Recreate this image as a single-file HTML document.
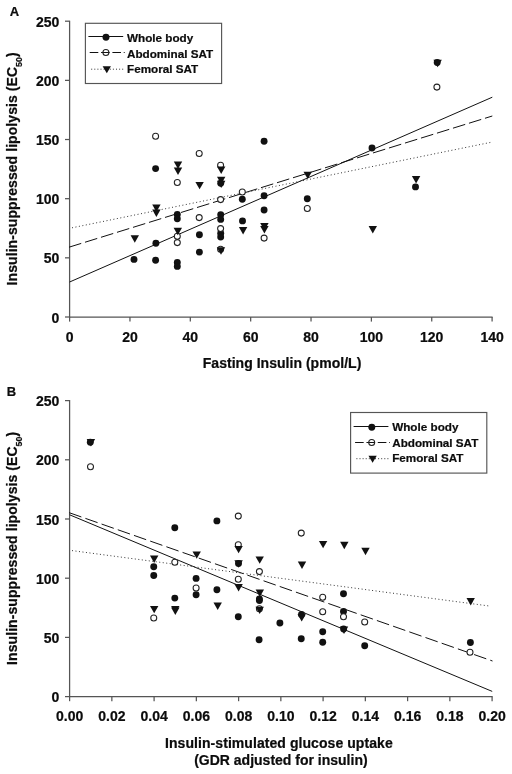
<!DOCTYPE html>
<html><head><meta charset="utf-8"><title>Figure</title>
<style>
html,body{margin:0;padding:0;background:#fff;}
body{width:512px;height:774px;overflow:hidden;}
svg{display:block;will-change:transform;filter:grayscale(1);}
text{font-family:"Liberation Sans",sans-serif;font-weight:bold;fill:#0c0c0c;stroke:#0c0c0c;stroke-width:0.22px;stroke-linejoin:round;}
.t13{font-size:14px;}
.lab{font-size:13px;}
.t14{font-size:14px;}
.lg{font-size:11.7px;}
</style></head><body>
<svg width="512" height="774" viewBox="0 0 512 774">
<rect x="0" y="0" width="512" height="774" fill="#fff"/>

<!-- Panel A -->
<g stroke="#555" stroke-width="1.25" fill="none" stroke-linecap="butt">
<path d="M69.6 20.7V317.5"/>
<path d="M69.1 317.0H492.6"/>
<path d="M69.60 317.0v4.6"/>
<path d="M129.96 317.0v4.6"/>
<path d="M190.31 317.0v4.6"/>
<path d="M250.67 317.0v4.6"/>
<path d="M311.03 317.0v4.6"/>
<path d="M371.39 317.0v4.6"/>
<path d="M431.74 317.0v4.6"/>
<path d="M492.10 317.0v4.6"/>
<path d="M69.6 317.00h-4.6"/>
<path d="M69.6 257.84h-4.6"/>
<path d="M69.6 198.68h-4.6"/>
<path d="M69.6 139.52h-4.6"/>
<path d="M69.6 80.36h-4.6"/>
<path d="M69.6 21.20h-4.6"/>
</g>
<text class="t13" x="69.60" y="341.8" text-anchor="middle">0</text>
<text class="t13" x="129.96" y="341.8" text-anchor="middle">20</text>
<text class="t13" x="190.31" y="341.8" text-anchor="middle">40</text>
<text class="t13" x="250.67" y="341.8" text-anchor="middle">60</text>
<text class="t13" x="311.03" y="341.8" text-anchor="middle">80</text>
<text class="t13" x="371.39" y="341.8" text-anchor="middle">100</text>
<text class="t13" x="431.74" y="341.8" text-anchor="middle">120</text>
<text class="t13" x="492.10" y="341.8" text-anchor="middle">140</text>
<text class="t13" x="59.3" y="322.50" text-anchor="end">0</text>
<text class="t13" x="59.3" y="263.34" text-anchor="end">50</text>
<text class="t13" x="59.3" y="204.18" text-anchor="end">100</text>
<text class="t13" x="59.3" y="145.02" text-anchor="end">150</text>
<text class="t13" x="59.3" y="85.86" text-anchor="end">200</text>
<text class="t13" x="59.3" y="26.70" text-anchor="end">250</text>
<g stroke="#111" stroke-width="1.0" fill="none">
<path d="M69.6 282L492.3 97.2"/>
<path d="M69.0 247.2L492.3 116" stroke-dasharray="12.8 3.95"/>
<path d="M72 227.8L490.5 142.4" stroke-dasharray="1 2.52" stroke-width="0.95" stroke="#2a2a2a"/>
</g>
<g>
<circle cx="134.00" cy="259.40" r="3.45" fill="#111"/>
<circle cx="155.90" cy="243.30" r="3.45" fill="#111"/>
<circle cx="155.60" cy="260.20" r="3.45" fill="#111"/>
<circle cx="155.60" cy="168.60" r="3.45" fill="#111"/>
<circle cx="177.30" cy="214.40" r="3.45" fill="#111"/>
<circle cx="177.30" cy="218.75" r="3.45" fill="#111"/>
<circle cx="177.30" cy="262.50" r="3.45" fill="#111"/>
<circle cx="177.30" cy="266.40" r="3.45" fill="#111"/>
<circle cx="199.40" cy="234.70" r="3.45" fill="#111"/>
<circle cx="199.40" cy="252.10" r="3.45" fill="#111"/>
<circle cx="220.70" cy="214.70" r="3.45" fill="#111"/>
<circle cx="220.70" cy="219.40" r="3.45" fill="#111"/>
<circle cx="220.70" cy="233.20" r="3.45" fill="#111"/>
<circle cx="220.70" cy="237.00" r="3.45" fill="#111"/>
<circle cx="220.70" cy="183.30" r="3.45" fill="#111"/>
<circle cx="242.30" cy="199.30" r="3.45" fill="#111"/>
<circle cx="242.50" cy="220.90" r="3.45" fill="#111"/>
<circle cx="264.10" cy="141.25" r="3.45" fill="#111"/>
<circle cx="264.10" cy="195.80" r="3.45" fill="#111"/>
<circle cx="264.10" cy="210.00" r="3.45" fill="#111"/>
<circle cx="307.30" cy="198.80" r="3.45" fill="#111"/>
<circle cx="372.00" cy="148.00" r="3.45" fill="#111"/>
<circle cx="415.50" cy="186.90" r="3.45" fill="#111"/>
<circle cx="437.20" cy="62.50" r="3.45" fill="#111"/>
<circle cx="155.60" cy="136.25" r="3.0" fill="#fff" stroke="#222" stroke-width="1.05"/>
<circle cx="177.30" cy="182.50" r="3.0" fill="#fff" stroke="#222" stroke-width="1.05"/>
<circle cx="177.30" cy="236.20" r="3.0" fill="#fff" stroke="#222" stroke-width="1.05"/>
<circle cx="177.30" cy="242.60" r="3.0" fill="#fff" stroke="#222" stroke-width="1.05"/>
<circle cx="199.20" cy="153.40" r="3.0" fill="#fff" stroke="#222" stroke-width="1.05"/>
<circle cx="199.20" cy="217.60" r="3.0" fill="#fff" stroke="#222" stroke-width="1.05"/>
<circle cx="220.60" cy="165.30" r="3.0" fill="#fff" stroke="#222" stroke-width="1.05"/>
<circle cx="220.60" cy="199.60" r="3.0" fill="#fff" stroke="#222" stroke-width="1.05"/>
<circle cx="220.60" cy="228.60" r="3.0" fill="#fff" stroke="#222" stroke-width="1.05"/>
<circle cx="220.60" cy="249.30" r="3.0" fill="#fff" stroke="#222" stroke-width="1.05"/>
<circle cx="242.30" cy="191.90" r="3.0" fill="#fff" stroke="#222" stroke-width="1.05"/>
<circle cx="264.10" cy="238.10" r="3.0" fill="#fff" stroke="#222" stroke-width="1.05"/>
<circle cx="307.30" cy="208.40" r="3.0" fill="#fff" stroke="#222" stroke-width="1.05"/>
<circle cx="436.90" cy="87.10" r="3.0" fill="#fff" stroke="#222" stroke-width="1.05"/>
<path d="M130.60 235.30L139.00 235.30L134.80 242.70Z" fill="#111"/>
<path d="M152.20 204.60L160.60 204.60L156.40 212.00Z" fill="#111"/>
<path d="M152.20 209.50L160.60 209.50L156.40 216.90Z" fill="#111"/>
<path d="M173.80 161.60L182.20 161.60L178.00 169.00Z" fill="#111"/>
<path d="M173.80 167.60L182.20 167.60L178.00 175.00Z" fill="#111"/>
<path d="M173.60 227.80L182.00 227.80L177.80 235.20Z" fill="#111"/>
<path d="M195.40 181.90L203.80 181.90L199.60 189.30Z" fill="#111"/>
<path d="M217.00 166.60L225.40 166.60L221.20 174.00Z" fill="#111"/>
<path d="M217.00 176.80L225.40 176.80L221.20 184.20Z" fill="#111"/>
<path d="M217.00 180.70L225.40 180.70L221.20 188.10Z" fill="#111"/>
<path d="M216.80 247.30L225.20 247.30L221.00 254.70Z" fill="#111"/>
<path d="M238.90 227.00L247.30 227.00L243.10 234.40Z" fill="#111"/>
<path d="M260.20 223.10L268.60 223.10L264.40 230.50Z" fill="#111"/>
<path d="M260.20 226.05L268.60 226.05L264.40 233.45Z" fill="#111"/>
<path d="M303.50 171.70L311.90 171.70L307.70 179.10Z" fill="#111"/>
<path d="M368.60 226.00L377.00 226.00L372.80 233.40Z" fill="#111"/>
<path d="M411.90 176.10L420.30 176.10L416.10 183.50Z" fill="#111"/>
<path d="M433.40 59.80L441.80 59.80L437.60 67.20Z" fill="#111"/>
</g>
<text class="t14" transform="translate(16.6 168.8) rotate(-90)" text-anchor="middle" letter-spacing="0.07">Insulin-suppressed lipolysis (EC<tspan font-size="8.8" dy="5.0">50</tspan><tspan dy="-5.0">)</tspan></text>
<text class="t14" x="282.1" y="368.3" text-anchor="middle" letter-spacing="0.03">Fasting Insulin (pmol/L)</text>
<text class="lab" x="9.8" y="16.2">A</text>
<rect x="85.4" y="23.3" width="136.2" height="60.2" fill="#fff" stroke="#555" stroke-width="1.15"/>
<g stroke="#111" stroke-width="1.05" fill="none">
<path d="M88.40 36.55H123.20"/>
<path d="M89.70 52.55H124.70" stroke-dasharray="8.6 2.75"/>
<path d="M91.20 69.20H125.20" stroke-dasharray="1 2.1" stroke-width="0.95" stroke="#2a2a2a"/>
</g>
<circle cx="106.00" cy="37.30" r="3.45" fill="#111"/>
<circle cx="105.90" cy="52.55" r="3.0" fill="none" stroke="#222" stroke-width="1.05"/>
<path d="M102.65 66.20L110.95 66.20L106.80 73.20Z" fill="#111"/>
<text class="lg" x="127.00" y="42.10">Whole body</text>
<text class="lg" x="127.00" y="57.80">Abdominal SAT</text>
<text class="lg" x="127.00" y="72.70">Femoral SAT</text>
<!-- Panel B -->
<g stroke="#555" stroke-width="1.25" fill="none" stroke-linecap="butt">
<path d="M69.6 400.1V697.1"/>
<path d="M69.1 696.6H492.6"/>
<path d="M69.60 696.6v4.6"/>
<path d="M111.85 696.6v4.6"/>
<path d="M154.10 696.6v4.6"/>
<path d="M196.35 696.6v4.6"/>
<path d="M238.60 696.6v4.6"/>
<path d="M280.85 696.6v4.6"/>
<path d="M323.10 696.6v4.6"/>
<path d="M365.35 696.6v4.6"/>
<path d="M407.60 696.6v4.6"/>
<path d="M449.85 696.6v4.6"/>
<path d="M492.10 696.6v4.6"/>
<path d="M69.6 696.60h-4.6"/>
<path d="M69.6 637.40h-4.6"/>
<path d="M69.6 578.20h-4.6"/>
<path d="M69.6 519.00h-4.6"/>
<path d="M69.6 459.80h-4.6"/>
<path d="M69.6 400.60h-4.6"/>
</g>
<text class="t13" x="69.60" y="720.9" text-anchor="middle">0.00</text>
<text class="t13" x="111.85" y="720.9" text-anchor="middle">0.02</text>
<text class="t13" x="154.10" y="720.9" text-anchor="middle">0.04</text>
<text class="t13" x="196.35" y="720.9" text-anchor="middle">0.06</text>
<text class="t13" x="238.60" y="720.9" text-anchor="middle">0.08</text>
<text class="t13" x="280.85" y="720.9" text-anchor="middle">0.10</text>
<text class="t13" x="323.10" y="720.9" text-anchor="middle">0.12</text>
<text class="t13" x="365.35" y="720.9" text-anchor="middle">0.14</text>
<text class="t13" x="407.60" y="720.9" text-anchor="middle">0.16</text>
<text class="t13" x="449.85" y="720.9" text-anchor="middle">0.18</text>
<text class="t13" x="492.10" y="720.9" text-anchor="middle">0.20</text>
<text class="t13" x="59.3" y="702.10" text-anchor="end">0</text>
<text class="t13" x="59.3" y="642.90" text-anchor="end">50</text>
<text class="t13" x="59.3" y="583.70" text-anchor="end">100</text>
<text class="t13" x="59.3" y="524.50" text-anchor="end">150</text>
<text class="t13" x="59.3" y="465.30" text-anchor="end">200</text>
<text class="t13" x="59.3" y="406.10" text-anchor="end">250</text>
<g stroke="#111" stroke-width="1.0" fill="none">
<path d="M69.6 514.8L492.2 691.4"/>
<path d="M69.2 512.7L492.5 661" stroke-dasharray="12.9 4.26"/>
<path d="M72 550.6L490 606.1" stroke-dasharray="1 2.52" stroke-width="0.95" stroke="#2a2a2a"/>
</g>
<g>
<circle cx="90.30" cy="442.20" r="3.45" fill="#111"/>
<circle cx="153.75" cy="566.70" r="3.45" fill="#111"/>
<circle cx="153.75" cy="575.50" r="3.45" fill="#111"/>
<circle cx="174.80" cy="527.70" r="3.45" fill="#111"/>
<circle cx="174.80" cy="598.10" r="3.45" fill="#111"/>
<circle cx="196.10" cy="578.40" r="3.45" fill="#111"/>
<circle cx="196.10" cy="594.70" r="3.45" fill="#111"/>
<circle cx="216.90" cy="520.90" r="3.45" fill="#111"/>
<circle cx="216.90" cy="589.80" r="3.45" fill="#111"/>
<circle cx="238.30" cy="616.70" r="3.45" fill="#111"/>
<circle cx="238.50" cy="563.50" r="3.45" fill="#111"/>
<circle cx="259.40" cy="598.90" r="3.45" fill="#111"/>
<circle cx="259.40" cy="600.50" r="3.45" fill="#111"/>
<circle cx="259.10" cy="639.70" r="3.45" fill="#111"/>
<circle cx="279.90" cy="623.00" r="3.45" fill="#111"/>
<circle cx="301.50" cy="614.50" r="3.45" fill="#111"/>
<circle cx="301.25" cy="638.75" r="3.45" fill="#111"/>
<circle cx="322.70" cy="631.70" r="3.45" fill="#111"/>
<circle cx="322.70" cy="642.20" r="3.45" fill="#111"/>
<circle cx="343.50" cy="593.80" r="3.45" fill="#111"/>
<circle cx="343.50" cy="611.40" r="3.45" fill="#111"/>
<circle cx="343.60" cy="629.00" r="3.45" fill="#111"/>
<circle cx="364.70" cy="645.80" r="3.45" fill="#111"/>
<circle cx="470.40" cy="642.50" r="3.45" fill="#111"/>
<circle cx="90.50" cy="466.75" r="3.0" fill="#fff" stroke="#222" stroke-width="1.05"/>
<circle cx="153.75" cy="618.00" r="3.0" fill="#fff" stroke="#222" stroke-width="1.05"/>
<circle cx="174.80" cy="562.20" r="3.0" fill="#fff" stroke="#222" stroke-width="1.05"/>
<circle cx="196.10" cy="588.00" r="3.0" fill="#fff" stroke="#222" stroke-width="1.05"/>
<circle cx="238.30" cy="516.10" r="3.0" fill="#fff" stroke="#222" stroke-width="1.05"/>
<circle cx="238.30" cy="544.70" r="3.0" fill="#fff" stroke="#222" stroke-width="1.05"/>
<circle cx="238.30" cy="579.20" r="3.0" fill="#fff" stroke="#222" stroke-width="1.05"/>
<circle cx="259.40" cy="571.60" r="3.0" fill="#fff" stroke="#222" stroke-width="1.05"/>
<circle cx="259.40" cy="608.70" r="3.0" fill="#fff" stroke="#222" stroke-width="1.05"/>
<circle cx="301.25" cy="533.10" r="3.0" fill="#fff" stroke="#222" stroke-width="1.05"/>
<circle cx="322.70" cy="597.30" r="3.0" fill="#fff" stroke="#222" stroke-width="1.05"/>
<circle cx="322.70" cy="611.70" r="3.0" fill="#fff" stroke="#222" stroke-width="1.05"/>
<circle cx="343.50" cy="616.80" r="3.0" fill="#fff" stroke="#222" stroke-width="1.05"/>
<circle cx="364.70" cy="622.00" r="3.0" fill="#fff" stroke="#222" stroke-width="1.05"/>
<circle cx="470.00" cy="652.20" r="3.0" fill="#fff" stroke="#222" stroke-width="1.05"/>
<path d="M86.70 439.10L95.10 439.10L90.90 446.50Z" fill="#111"/>
<path d="M150.00 555.50L158.40 555.50L154.20 562.90Z" fill="#111"/>
<path d="M150.00 605.90L158.40 605.90L154.20 613.30Z" fill="#111"/>
<path d="M171.10 605.90L179.50 605.90L175.30 613.30Z" fill="#111"/>
<path d="M171.10 607.60L179.50 607.60L175.30 615.00Z" fill="#111"/>
<path d="M192.50 551.40L200.90 551.40L196.70 558.80Z" fill="#111"/>
<path d="M213.50 602.50L221.90 602.50L217.70 609.90Z" fill="#111"/>
<path d="M234.40 545.90L242.80 545.90L238.60 553.30Z" fill="#111"/>
<path d="M234.40 560.30L242.80 560.30L238.60 567.70Z" fill="#111"/>
<path d="M234.40 584.00L242.80 584.00L238.60 591.40Z" fill="#111"/>
<path d="M255.50 556.40L263.90 556.40L259.70 563.80Z" fill="#111"/>
<path d="M255.60 589.60L264.00 589.60L259.80 597.00Z" fill="#111"/>
<path d="M255.50 606.70L263.90 606.70L259.70 614.10Z" fill="#111"/>
<path d="M297.80 561.50L306.20 561.50L302.00 568.90Z" fill="#111"/>
<path d="M297.50 614.20L305.90 614.20L301.70 621.60Z" fill="#111"/>
<path d="M318.90 540.90L327.30 540.90L323.10 548.30Z" fill="#111"/>
<path d="M340.10 541.80L348.50 541.80L344.30 549.20Z" fill="#111"/>
<path d="M339.80 626.60L348.20 626.60L344.00 634.00Z" fill="#111"/>
<path d="M361.30 547.80L369.70 547.80L365.50 555.20Z" fill="#111"/>
<path d="M466.50 598.10L474.90 598.10L470.70 605.50Z" fill="#111"/>
</g>
<text class="t14" transform="translate(16.6 548.3) rotate(-90)" text-anchor="middle" letter-spacing="0.07">Insulin-suppressed lipolysis (EC<tspan font-size="8.8" dy="5.0">50</tspan><tspan dy="-5.0">)</tspan></text>
<text class="t14" x="278.9" y="747.6" text-anchor="middle" letter-spacing="0.065">Insulin-stimulated glucose uptake</text>
<text class="t14" x="280.9" y="764.6" text-anchor="middle">(GDR adjusted for insulin)</text>
<text class="lab" x="6.7" y="396.4">B</text>
<rect x="350.6" y="412.5" width="136.2" height="60.6" fill="#fff" stroke="#555" stroke-width="1.15"/>
<g stroke="#111" stroke-width="1.05" fill="none">
<path d="M353.60 426.45H388.40"/>
<path d="M355.08 442.40H389.90" stroke-dasharray="8.6 2.75"/>
<path d="M356.40 458.70H390.40" stroke-dasharray="1 2.1" stroke-width="0.95" stroke="#2a2a2a"/>
</g>
<circle cx="371.80" cy="427.20" r="3.45" fill="#111"/>
<circle cx="371.70" cy="442.40" r="3.0" fill="none" stroke="#222" stroke-width="1.05"/>
<path d="M368.45 455.70L376.75 455.70L372.60 462.70Z" fill="#111"/>
<text class="lg" x="392.20" y="431.45">Whole body</text>
<text class="lg" x="392.20" y="447.15">Abdominal SAT</text>
<text class="lg" x="392.20" y="462.05">Femoral SAT</text>
</svg></body></html>
